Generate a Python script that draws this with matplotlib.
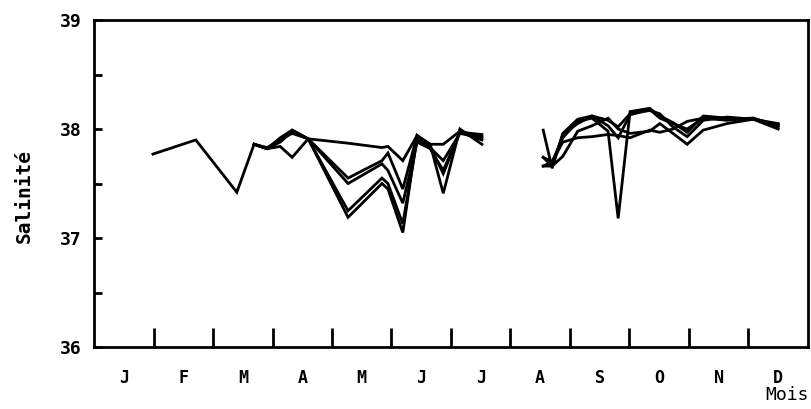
import numpy as np
import matplotlib
matplotlib.use("Agg")
import matplotlib.pyplot as plt
from matplotlib.ticker import FixedLocator, MultipleLocator

# Months (x in month units, 0 = start of January)
month_labels = ['J', 'F', 'M', 'A', 'M', 'J', 'J', 'A', 'S', 'O', 'N', 'D']

# First half of year: sampling dates (months)
x_first = [0.99, 1.71, 2.40, 2.69, 2.91, 3.13, 3.33, 3.60, 4.27, 4.84, 4.94,
           5.19, 5.43, 5.65, 5.87, 6.15, 6.52]
s1 = [37.77, 37.90, 37.42, 37.86, 37.83, 37.90, 37.99, 37.91, 37.87, 37.83, 37.84,
      37.71, 37.94, 37.86, 37.86, 37.98, 37.93]
s2 = [np.nan, np.nan, np.nan, 37.86, 37.82, 37.88, 37.98, 37.91, 37.55, 37.71, 37.78,
      37.45, 37.94, 37.83, 37.71, 37.96, 37.92]
s3 = [np.nan, np.nan, np.nan, 37.86, 37.82, 37.84, 37.74, 37.91, 37.50, 37.68, 37.62,
      37.32, 37.88, 37.82, 37.62, 37.97, 37.95]
s4 = [np.nan, np.nan, np.nan, 37.86, 37.82, 37.90, 37.96, 37.91, 37.25, 37.55, 37.50,
      37.13, 37.90, 37.84, 37.59, 37.97, 37.90]
s5 = [np.nan, np.nan, np.nan, 37.86, 37.82, 37.92, 37.99, 37.91, 37.19, 37.50, 37.45,
      37.05, 37.94, 37.86, 37.41, 38.00, 37.86]

# Second half of year
x_second = [7.55, 7.70, 7.88, 8.13, 8.37, 8.64, 8.81, 9.01, 9.34, 9.51, 9.73,
            9.97, 10.24, 10.64, 11.08, 11.50]
t1 = [37.99, 37.64, 37.96, 38.09, 38.12, 38.03, 37.92, 38.13, 38.18, 38.10, 38.05,
      38.00, 38.10, 38.09, 38.10, 38.03]
t2 = [37.74, 37.70, 37.92, 38.07, 38.10, 37.98, 37.18, 38.16, 38.19, 38.12, 38.06,
      37.97, 38.12, 38.10, 38.09, 38.00]
t3 = [37.66, 37.66, 37.75, 37.98, 38.03, 38.10, 38.00, 37.96, 37.98, 38.05, 37.96,
      37.86, 37.99, 38.05, 38.09, 38.04]
t4 = [37.66, 37.70, 37.88, 37.92, 37.93, 37.95, 37.94, 37.92, 37.99, 37.97, 38.00,
      38.07, 38.10, 38.08, 38.10, 38.02]
t5 = [37.74, 37.66, 37.95, 38.05, 38.12, 38.08, 38.02, 38.14, 38.17, 38.14, 38.02,
      37.93, 38.08, 38.11, 38.09, 38.05]

FONT = 'DejaVu Sans Mono'

fig = plt.figure(figsize=(8.12, 4.09), dpi=100)
ax = fig.add_axes([0.1158, 0.1516, 0.8792, 0.7994])

for ys in (s1, s2, s3, s4, s5):
    ax.plot(x_first, ys, color='black', lw=2.0, solid_joinstyle='miter')
for ys in (t1, t2, t3, t4, t5):
    ax.plot(x_second, ys, color='black', lw=2.0, solid_joinstyle='miter')

ax.set_xlim(0, 12)
ax.set_ylim(36, 39)

# x: tick marks at month boundaries, labels centred in months
ax.xaxis.set_major_locator(FixedLocator(np.arange(1, 12)))
ax.xaxis.set_minor_locator(FixedLocator(np.arange(12) + 0.5))
ax.set_xticklabels([''] * 11)
ax.set_xticklabels(month_labels, minor=True, fontfamily=FONT,
                   fontweight='bold', fontsize=12)
ax.tick_params(axis='x', which='major', direction='in', length=14, width=2)
ax.tick_params(axis='x', which='minor', length=0, pad=16)

ax.yaxis.set_major_locator(MultipleLocator(1))
ax.yaxis.set_minor_locator(MultipleLocator(0.5))
ax.tick_params(axis='y', which='both', direction='in', length=6, width=2, pad=9)
for lab in ax.get_yticklabels():
    lab.set_fontfamily(FONT)
    lab.set_fontweight('bold')
    lab.set_fontsize(13)

for sp in ax.spines.values():
    sp.set_linewidth(2)

fig.text(0.030, 0.52, 'Salinité', rotation=90, ha='center', va='center',
         fontfamily=FONT, fontweight='bold', fontsize=14)
fig.text(0.996, 0.035, 'Mois', ha='right', va='center',
         fontfamily=FONT, fontsize=13)

fig.savefig('out.png', dpi=100)
